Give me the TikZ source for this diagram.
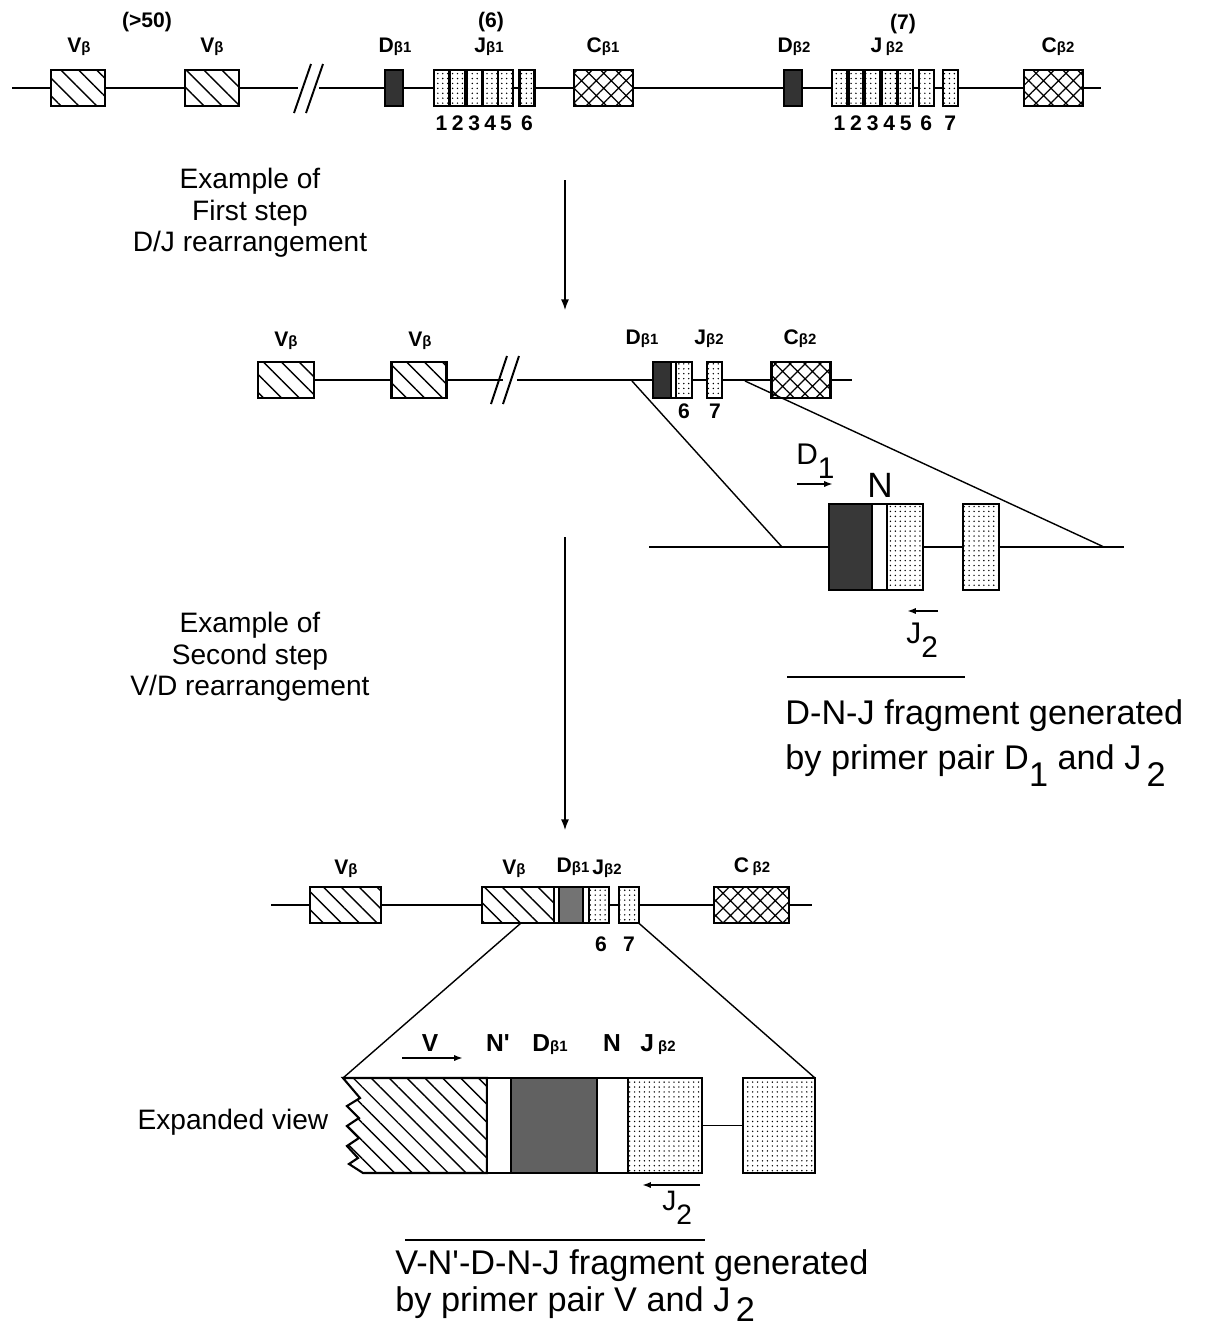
\documentclass[tikz,border=0pt]{standalone}
\usepackage{fontspec}
\setmainfont{Liberation Sans}
\usetikzlibrary{positioning,patterns.meta,arrows.meta}

\newcommand{\gb}[1]{{\fontsize{8.5}{9}\selectfont #1}}
\newcommand{\lowsub}[1]{\raisebox{-0.5em}{#1}}

\begin{document}
\begin{tikzpicture}[x=0.02cm, y=-0.02cm,
  dna/.style={line width=1.1pt},
  gene/.style={draw, line width=1.2pt, inner sep=0pt, outer sep=0pt, minimum height=0.72cm},
  vseg/.style={gene, minimum width=1.08cm, pattern={Lines[angle=-45,distance=7.2pt,line width=0.8pt]}},
  dseg/.style={gene, minimum width=0.36cm, fill=black!80},
  jseg/.style={gene, minimum width=0.30cm, pattern={Dots[distance=2.8pt,radius=0.45pt]}},
  cseg/.style={gene, minimum width=1.18cm, pattern={Hatch[angle=45,distance=6pt,line width=0.7pt]}},
  nseg/.style={gene, fill=white},
  lbl/.style={font=\fontsize{12}{13}\selectfont\bfseries, inner sep=0pt},
  txt/.style={font=\fontsize{16}{18}\selectfont, align=center, inner sep=0pt},
  bigtxt/.style={font=\fontsize{19.5}{21}\selectfont, inner sep=0pt, anchor=base west},
  primer/.style={line width=1pt, -{Latex[length=5pt,width=3.5pt]}},
  zoomline/.style={line width=0.8pt},
  steparrow/.style={line width=0.7pt, -{Latex[length=6pt,width=4.5pt]}}
]
\useasboundingbox (0,0) rectangle (1209,1333);

% germline locus
\coordinate (r1s) at (12,88);
\node[vseg] (v1) at (78,88) {};
\node[vseg] (v2) at (212,88) {};
\coordinate (r1b) at (298,88);
\coordinate (r1c) at (319,88);
\node[dseg] (d1) at (394,88) {};
\foreach \x/\n in {441.6/1,457.8/2,474.2/3,490.3/4,505.9/5,527/6}{
  \node[jseg] (ja\n) at (\x,88) {};
  \node[lbl] (na\n) at (\x,123) {\n};
}
\node[cseg] (c1) at (603.5,88) {};
\node[dseg] (d2) at (792.6,88) {};
\foreach \x/\n in {839.6/1,856/2,872.7/3,889.2/4,905.7/5,926.2/6,950.3/7}{
  \node[jseg] (jb\n) at (\x,88) {};
  \node[lbl] (nb\n) at (\x,123) {\n};
}
\node[cseg] (c2) at (1053.4,88) {};
\coordinate (r1e) at (1101,88);
\draw[dna] (r1s) -- (v1) -- (v2) -- (r1b);
\draw[dna] (r1c) -- (d1) -- (ja1);
\draw[dna] (ja5) -- (ja6) -- (c1) -- (d2) -- (jb1);
\draw[dna] (jb5) -- (jb6) -- (jb7) -- (c2) -- (r1e);
\draw[dna] (294,113) -- (311,64);
\draw[dna] (306,113) -- (323,64);

\node[lbl] (cnt1) at (147,22) {(>50)};
\node[lbl] (cnt2) at (491,22) {(6)};
\node[lbl] (cnt3) at (903,24) {(7)};
\node[lbl] (lv1) at (79,47) {V\gb{β}};
\node[lbl] (lv2) at (212,47) {V\gb{β}};
\node[lbl] (ld1) at (395,47) {D\gb{β1}};
\node[lbl] (lj1) at (489,47) {J\gb{β1}};
\node[lbl] (lc1) at (603,47) {C\gb{β1}};
\node[lbl] (ld2) at (794,47) {D\gb{β2}};
\node[lbl] (lj2) at (887,47) {J\,\gb{β2}};
\node[lbl] (lc2) at (1058,47) {C\gb{β2}};

% first step
\node[txt] (step1) at (250,213) {Example of\\First step\\D/J rearrangement};
\coordinate (a1s) at (565,180);
\coordinate (a1e) at (565,310);
\draw[steparrow] (a1s) -- (a1e);

% D/J rearranged locus
\node[vseg, minimum width=1.12cm] (v3) at (286,380) {};
\node[vseg, minimum width=1.1cm] (v4) at (419,380) {};
\coordinate (r2b) at (503,380);
\coordinate (r2c) at (517,380);
\node[dseg, minimum width=0.37cm, anchor=west] (d3) at (652.6,380) {};
\node[nseg, minimum width=0.09cm, right=0pt of d3] (n3) {};
\node[jseg, minimum width=0.33cm, right=0pt of n3] (j3) {};
\node[jseg] (j4) at (714.8,380) {};
\node[cseg] (c3) at (801,380) {};
\coordinate (r2e) at (852,380);
\draw[dna] (v3) -- (v4) -- (r2b);
\draw[dna] (r2c) -- (d3);
\draw[dna] (j3) -- (j4) -- (c3) -- (r2e);
\draw[dna] (491,404) -- (507,356);
\draw[dna] (503,404) -- (519,356);

\node[lbl] (lv3) at (286,341) {V\gb{β}};
\node[lbl] (lv4) at (420,341) {V\gb{β}};
\node[lbl] (ld3) at (642,339) {D\gb{β1}};
\node[lbl] (lj3) at (709,339) {J\gb{β2}};
\node[lbl] (lc3) at (800,339) {C\gb{β2}};
\node[lbl] (n6a) at (684,411) {6};
\node[lbl] (n7a) at (715,411) {7};

% D-N-J close-up
\coordinate (z1) at (632,381);
\coordinate (z2) at (782,547);
\coordinate (z3) at (745,381);
\coordinate (z4) at (1104,547);
\draw[zoomline] (z1) -- (z2);
\draw[zoomline] (z3) -- (z4);
\coordinate (xs) at (649,547);
\coordinate (xe) at (1124,547);
\node[dseg, minimum width=0.86cm, minimum height=1.72cm, fill=black!78] (dx) at (850.5,547) {};
\node[nseg, minimum width=0.30cm, minimum height=1.72cm, right=0pt of dx] (nx) {};
\node[jseg, minimum width=0.72cm, minimum height=1.72cm, right=0pt of nx] (jx) {};
\node[jseg, minimum width=0.72cm, minimum height=1.72cm] (jy) at (981,547) {};
\draw[dna] (xs) -- (dx);
\draw[dna] (jx) -- (jy) -- (xe);

\node[font=\fontsize{17}{17}\selectfont, inner sep=0pt, anchor=base west] (pD) at (796,464) {D\lowsub{1}};
\node[font=\fontsize{20}{20}\selectfont, inner sep=0pt] (pN) at (880,485) {N};
\coordinate (pd1) at (797,484);
\coordinate (pd2) at (833,484);
\draw[primer] (pd1) -- (pd2);
\coordinate (pj1) at (938,611);
\coordinate (pj2) at (907,611);
\draw[primer] (pj1) -- (pj2);
\node[font=\fontsize{17}{17}\selectfont, inner sep=0pt, anchor=base west] (pJ) at (906,643) {J\lowsub{2}};

\coordinate (u1) at (787,677);
\coordinate (u2) at (965,677);
\draw[zoomline] (u1) -- (u2);
\node[bigtxt] (t1) at (785,724) {D-N-J fragment generated};
\node[bigtxt] (t2) at (785,769) {by primer pair D\lowsub{1} and J\lowsub{\kern3pt 2}};

% second step
\node[txt] (step2) at (250,657) {Example of\\Second step\\V/D rearrangement};
\coordinate (a2s) at (565,537);
\coordinate (a2e) at (565,830);
\draw[steparrow] (a2s) -- (a2e);

% V/D rearranged locus
\coordinate (r3s) at (271,905);
\node[vseg, minimum width=1.42cm] (v5) at (345.8,905) {};
\node[vseg, minimum width=1.45cm, anchor=west] (v6) at (481.7,905) {};
\node[nseg, minimum width=0.09cm, right=0pt of v6] (n5) {};
\node[dseg, minimum width=0.49cm, fill=black!55, right=0pt of n5] (d5) {};
\node[nseg, minimum width=0.11cm, right=0pt of d5] (n6) {};
\node[jseg, minimum width=0.40cm, right=0pt of n6] (j5) {};
\node[jseg, minimum width=0.40cm] (j6) at (628.6,905) {};
\node[cseg, minimum width=1.5cm] (c5) at (751.5,905) {};
\coordinate (r3e) at (812,905);
\draw[dna] (r3s) -- (v5) -- (v6);
\draw[dna] (j5) -- (j6) -- (c5) -- (r3e);

\node[lbl] (lv5) at (346,869) {V\gb{β}};
\node[lbl] (lv6) at (514,869) {V\gb{β}};
\node[lbl] (ld5) at (573,867) {D\gb{β1}};
\node[lbl] (lj5) at (607,869) {J\gb{β2}};
\node[lbl] (lc5) at (752,867) {C\,\gb{β2}};
\node[lbl] (n6b) at (601,944) {6};
\node[lbl] (n7b) at (629,944) {7};

% V-N'-D-N-J close-up
\coordinate (e1) at (521,923);
\coordinate (xv) at (343,1078);
\draw[zoomline] (e1) -- (xv);
\draw[line width=1.2pt, pattern={Lines[angle=-45,distance=7.2pt,line width=0.8pt]}]
  (xv) -- (487,1078) -- (487,1173) -- (363,1173) -- (349,1164) -- (358,1158)
  -- (347,1146) -- (359,1138) -- (347,1126) -- (359,1118) -- (347,1106)
  -- (360,1098) -- cycle;
\node[nseg, minimum width=0.48cm, minimum height=1.9cm, anchor=west] (nb1) at (487,1125.5) {};
\node[dseg, fill=black!62, minimum width=1.72cm, minimum height=1.9cm, right=0pt of nb1] (db) {};
\node[nseg, minimum width=0.62cm, minimum height=1.9cm, right=0pt of db] (nb2) {};
\node[jseg, minimum width=1.48cm, minimum height=1.9cm, right=0pt of nb2] (jbx) {};
\node[jseg, minimum width=1.44cm, minimum height=1.9cm] (jcx) at (779,1125.5) {};
\draw[dna] (jbx) -- (jcx);
\draw[zoomline] (j6.south east) -- (jcx.north east);

\node[font=\fontsize{14}{15}\selectfont\bfseries, inner sep=0pt] (bV) at (430,1043) {V};
\node[font=\fontsize{14}{15}\selectfont\bfseries, inner sep=0pt] (bN1) at (498,1043) {N\textquotesingle};
\node[font=\fontsize{14}{15}\selectfont\bfseries, inner sep=0pt] (bD) at (550,1045) {D\gb{β1}};
\node[font=\fontsize{14}{15}\selectfont\bfseries, inner sep=0pt] (bN2) at (612,1043) {N};
\node[font=\fontsize{14}{15}\selectfont\bfseries, inner sep=0pt] (bJ) at (658,1045) {J\,\gb{β2}};
\coordinate (pv1) at (402,1058);
\coordinate (pv2) at (463,1058);
\draw[primer] (pv1) -- (pv2);
\coordinate (pj3) at (700,1185);
\coordinate (pj4) at (642,1185);
\draw[primer] (pj3) -- (pj4);
\node[font=\fontsize{16}{16}\selectfont, inner sep=0pt, anchor=base west] (bJ2) at (662,1210) {J\lowsub{2}};

\node[font=\fontsize{16}{18}\selectfont, inner sep=0pt] (exv) at (233,1122) {Expanded view};

\coordinate (u3) at (405,1240);
\coordinate (u4) at (705,1240);
\draw[zoomline] (u3) -- (u4);
\node[bigtxt] (t3) at (395,1274) {V-N\textquotesingle-D-N-J fragment generated};
\node[bigtxt] (t4) at (395,1311) {by primer pair V and J\raisebox{-0.3em}{\kern3pt 2}};
\end{tikzpicture}
\end{document}
